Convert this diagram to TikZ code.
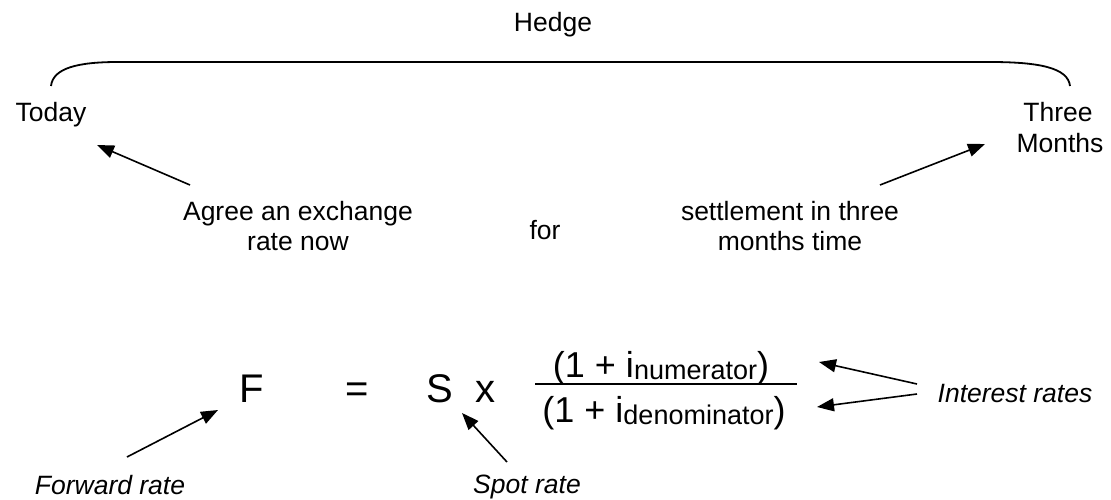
\documentclass[tikz,border=0pt]{standalone}
\usepackage{fontspec}
\setmainfont{Liberation Sans}
\usetikzlibrary{arrows.meta}
\tikzset{
  lbl/.style={inner sep=0pt, font=\fontsize{26.5}{31}\selectfont},
  ilbl/.style={inner sep=0pt, font=\fontsize{26.5}{31}\selectfont\itshape},
  big/.style={inner sep=0pt, font=\fontsize{40}{46}\selectfont},
  frac/.style={inner sep=0pt, font=\fontsize{36}{42}\selectfont},
  arr/.style={line width=1.6pt, -{Triangle[length=17pt,width=13pt]}},
  bracket/.style={line width=1.8pt}
}
\newcommand{\sub}[1]{\raisebox{-2pt}{\fontsize{27}{30}\selectfont #1}}
\begin{document}
\begin{tikzpicture}[x=1pt,y=-1pt]
\useasboundingbox (0,0) rectangle (1111,500);
% top labels
\node[lbl, anchor=base] (hedge) at (553,32) {Hedge};
\node[lbl, anchor=base] (today) at (51,122) {Today};
\node[lbl, anchor=base] (three) at (1058,122) {Three};
\node[lbl, anchor=base] (months) at (1060,153) {Months};
% bracket
\coordinate (bl) at (51,86);
\coordinate (br) at (1070,86);
\draw[bracket] (bl) .. controls (53,68) and (78,62) .. (118,62) -- (990,62) .. controls (1040,62) and (1068,68) .. (br);
% middle texts
\node[lbl, anchor=base] (agree1) at (298,220) {Agree an exchange};
\node[lbl, anchor=base] (agree2) at (298,250) {rate now};
\node[lbl, anchor=base] (for) at (545,239) {for};
\node[lbl, anchor=base] (settle1) at (790,220) {settlement in three};
\node[lbl, anchor=base] (settle2) at (790,250) {months time};
% arrows to Today / Three Months
\coordinate (a1s) at (190,185); \coordinate (a1e) at (97,145);
\coordinate (a2s) at (880,185); \coordinate (a2e) at (985,144);
\draw[arr] (a1s) -- (a1e);
\draw[arr] (a2s) -- (a2e);
% formula
\node[big, anchor=base west] (F) at (239,402) {F};
\node[big, anchor=base] (eq) at (357,402) {=};
\node[big, anchor=base west] (S) at (426,402) {S};
\node[big, anchor=base west] (x) at (475,402) {x};
\node[frac, anchor=base] (num) at (661,377) {(1 + i\sub{numerator})};
\node[frac, anchor=base] (den) at (664,422) {(1 + i\sub{denominator})};
\coordinate (fl) at (535,384); \coordinate (fr) at (797,384);
\draw[line width=1.5pt] (fl) -- (fr);
% labels below
\node[ilbl, anchor=base] (fwd) at (110,494) {Forward rate};
\node[ilbl, anchor=base] (spot) at (527,493) {Spot rate};
\node[ilbl, anchor=base] (ir) at (1015,402) {Interest rates};
\coordinate (f1s) at (127,457); \coordinate (f1e) at (218,410);
\coordinate (s1s) at (507,462); \coordinate (s1e) at (462,413);
\coordinate (i1s) at (917,384); \coordinate (i1e) at (819,362);
\coordinate (i2s) at (917,394); \coordinate (i2e) at (817,407);
\draw[arr] (f1s) -- (f1e);
\draw[arr] (s1s) -- (s1e);
\draw[arr] (i1s) -- (i1e);
\draw[arr] (i2s) -- (i2e);
\end{tikzpicture}
\end{document}
